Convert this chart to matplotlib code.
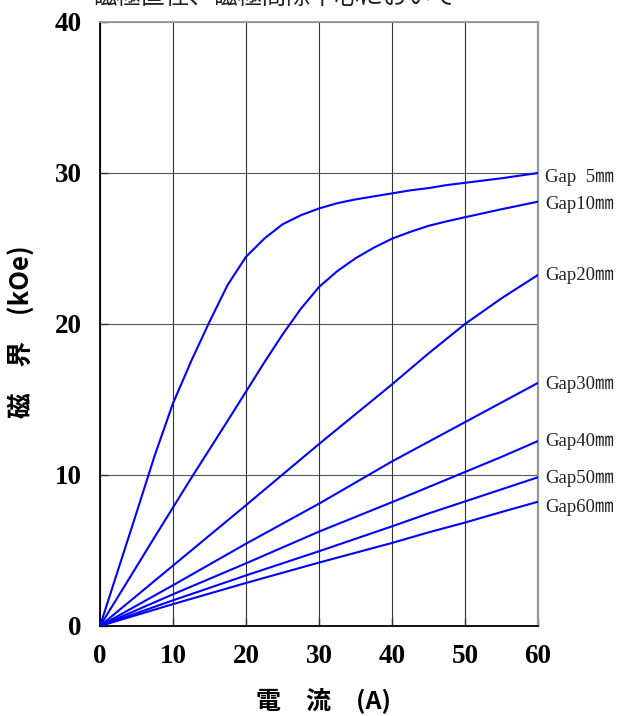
import matplotlib
matplotlib.use('Agg')
import matplotlib.pyplot as plt

plt.rcParams['font.family'] = ['Liberation Serif', 'Noto Sans CJK JP', 'DejaVu Sans']

# current (A) and field (kOe)
current_fine = [0, 5, 7.5, 10, 12.5, 15, 17.5, 20, 22.5, 25, 27.5, 30, 32.5, 35, 37.5,
                40, 42.5, 45, 47.5, 50, 55, 60]
gap5 = [0, 7.5, 11.3, 14.75, 17.55, 20.15, 22.6, 24.45, 25.65, 26.6, 27.2, 27.65, 28.0, 28.25,
        28.45, 28.65, 28.85, 29.0, 29.2, 29.35, 29.65, 30.0]
gap10 = [0, 3.93, 5.9, 7.85, 9.8, 11.7, 13.6, 15.52, 17.45, 19.3, 21.0, 22.45, 23.5, 24.35,
         25.05, 25.65, 26.1, 26.5, 26.8, 27.07, 27.6, 28.1]

current = [0, 10, 20, 30, 40, 45, 50, 55, 60]
gap20 = [0, 4.0, 8.0, 12.05, 16.0, 18.05, 20.0, 21.7, 23.25]
gap30 = [0, 2.7, 5.45, 8.1, 10.9, 12.2, 13.5, 14.8, 16.1]
gap40 = [0, 2.1, 4.15, 6.25, 8.2, 9.2, 10.2, 11.2, 12.25]
gap50 = [0, 1.7, 3.35, 4.95, 6.6, 7.45, 8.25, 9.05, 9.85]
gap60 = [0, 1.45, 2.85, 4.2, 5.5, 6.2, 6.85, 7.55, 8.23]

labels = ['Gap  5㎜', 'Gap10㎜', 'Gap20㎜', 'Gap30㎜', 'Gap40㎜', 'Gap50㎜', 'Gap60㎜']
label_y = [29.67, 27.88, 23.18, 15.96, 12.25, 9.80, 7.88]

title = '磁極直径、磁極間隙中心において'
xticks = [0, 10, 20, 30, 40, 50, 60]
yticks = [0, 10, 20, 30, 40]

fig = plt.figure(figsize=(6.25, 7.16), dpi=100)
ax = fig.add_axes([0.16, 0.1257, 0.7008, 0.8436])

for xs, vals in [(current_fine, gap5), (current_fine, gap10), (current, gap20),
                 (current, gap30), (current, gap40), (current, gap50), (current, gap60)]:
    ax.plot(xs, vals, color='#0000ff', lw=1.5, zorder=3, solid_joinstyle='round')

for lab, ly in zip(labels, label_y):
    ax.text(61.0, ly, lab, fontsize=13.5, va='center', ha='left', color='#222222',
            family=['Liberation Serif', 'Noto Sans CJK JP'], clip_on=False)

ax.set_xlim(0, 60)
ax.set_ylim(0, 40)
ax.set_xticks(xticks)
ax.set_yticks(yticks)
ax.grid(axis='x', color='#333333', lw=0.8)
ax.grid(axis='y', color='#555555', lw=0.8)
ax.tick_params(direction='in', length=6, width=1, color='#333333', labelsize=19.5, pad=13)
for lbl in ax.get_xticklabels() + ax.get_yticklabels():
    lbl.set_fontweight('bold')
    lbl.set_family('Liberation Serif')

ax.spines['left'].set_color('black')
ax.spines['left'].set_linewidth(1.3)
ax.spines['bottom'].set_color('black')
ax.spines['bottom'].set_linewidth(1.3)
ax.spines['right'].set_color('#999999')
ax.spines['right'].set_linewidth(1.6)
ax.spines['top'].set_color('#999999')
ax.spines['top'].set_linewidth(1.3)

fig.text(0.5184, 0.0223, '電\u3000流\u3000(A)', fontsize=18, fontweight='bold',
         ha='center', va='center', family=['Noto Sans CJK JP', 'Liberation Serif'])
fig.text(0.035, 0.5363, '磁\u3000界\u3000(kOe)', fontsize=18.5, fontweight='bold', rotation=90,
         ha='center', va='center', family=['Noto Sans CJK JP', 'Liberation Serif'])
fig.text(0.147, 0.994, title, fontsize=17.5, ha='left', va='baseline',
         family=['Noto Sans CJK JP'], color='#222222')

fig.savefig('out.png', dpi=100)
